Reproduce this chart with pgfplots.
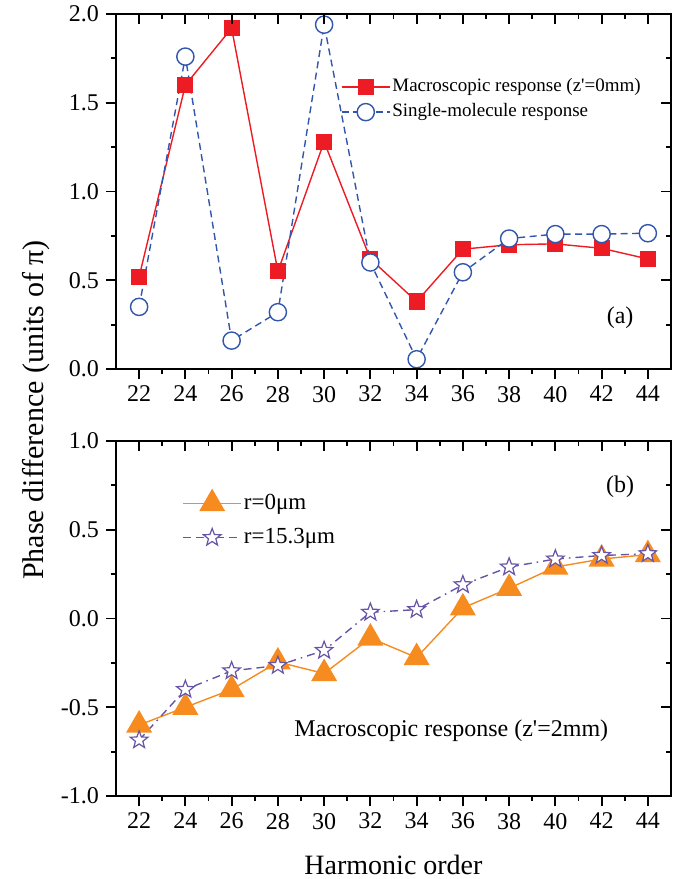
\documentclass[border=0pt]{standalone}
\usepackage{fontspec}
\setmainfont{Liberation Serif}
\usepackage{pgfplots}
\pgfplotsset{compat=1.18}

\definecolor{cred}{RGB}{237,28,36}
\definecolor{cblue}{RGB}{50,86,172}
\definecolor{corange}{RGB}{246,139,31}
\definecolor{cpurple}{RGB}{104,84,166}

% open five-pointed star
\pgfdeclareplotmark{ostar}{%
  \pgfpathmoveto{\pgfpointpolar{90}{\pgfplotmarksize}}%
  \pgfpathlineto{\pgfpointpolar{126}{0.42\pgfplotmarksize}}%
  \pgfpathlineto{\pgfpointpolar{162}{\pgfplotmarksize}}%
  \pgfpathlineto{\pgfpointpolar{198}{0.42\pgfplotmarksize}}%
  \pgfpathlineto{\pgfpointpolar{234}{\pgfplotmarksize}}%
  \pgfpathlineto{\pgfpointpolar{270}{0.42\pgfplotmarksize}}%
  \pgfpathlineto{\pgfpointpolar{306}{\pgfplotmarksize}}%
  \pgfpathlineto{\pgfpointpolar{342}{0.42\pgfplotmarksize}}%
  \pgfpathlineto{\pgfpointpolar{18}{\pgfplotmarksize}}%
  \pgfpathlineto{\pgfpointpolar{54}{0.42\pgfplotmarksize}}%
  \pgfpathclose
  \pgfusepathqfillstroke}

\pgfplotsset{
  panel/.style={
    scale only axis, width=277.5pt, height=177.5pt,
    xmin=21, xmax=45,
    xtick={22,24,...,44},
    minor x tick num=1, minor y tick num=1,
    axis line style={line width=1pt},
    tick style={black, line width=0.9pt},
    major tick length=5pt, minor tick length=2.5pt,
    tick label style={font=\fontsize{12}{14}\selectfont},
    /pgf/number format/assume math mode=true,
  },
  mainpanel/.style={panel, tick align=outside, xtick pos=left, ytick pos=left,
    yticklabel style={/pgf/number format/.cd, fixed, fixed zerofill, precision=1}},
  framepanel/.style={panel, tick align=inside, xtick pos=right, ytick pos=right,
    xticklabels={}, yticklabels={}},
}

\begin{document}
\begin{tikzpicture}
\useasboundingbox (-58pt,-255pt) rectangle (278.5pt,184.5pt);

% (a) top panel
\begin{axis}[mainpanel, at={(0,0)}, anchor=south west,
  ymin=0, ymax=2, ytick={0,0.5,1,1.5,2},
  legend cell align=left,
  legend style={draw=none, fill=none, at={(axis description cs:0.405,0.827)}, anchor=north west,
    inner sep=0pt, row sep=1.2pt, font=\fontsize{9.5}{11}\selectfont,
    nodes={inner sep=1pt, text height=7pt, text depth=2.3pt}},
  legend image code/.code={\draw[mark repeat=2, mark phase=2, #1] plot coordinates {(0cm,0cm) (0.42cm,0cm) (0.84cm,0cm)};},
]
\addplot[cred, line width=0.7pt, mark=square*, mark size=3.7pt,
  mark options={solid, fill=cred, draw=cred}] coordinates {
  (22,0.52) (24,1.60) (26,1.92) (28,0.55) (30,1.28) (32,0.62)
  (34,0.38) (36,0.675) (38,0.70) (40,0.705) (42,0.68) (44,0.62)
};
\addlegendentry{Macroscopic response (z\textquotesingle=0mm)}
\addplot[cblue, line width=0.7pt, dash pattern=on 3.5pt off 2.2pt, mark=*, mark size=4.3pt,
  mark options={solid, fill=white, draw=cblue, line width=0.7pt}] coordinates {
  (22,0.35) (24,1.76) (26,0.16) (28,0.32) (30,1.94) (32,0.60)
  (34,0.055) (36,0.545) (38,0.735) (40,0.76) (42,0.76) (44,0.765)
};
\addlegendentry{Single-molecule response}
\node[font=\fontsize{12}{14}\selectfont] at (axis cs:42.8,0.29) {(a)};
\end{axis}
\begin{axis}[framepanel, at={(0,0)}, anchor=south west, ymin=0, ymax=2, ytick={0,0.5,1,1.5,2}]
\end{axis}

% (b) bottom panel
\begin{axis}[mainpanel, at={(0,-36pt)}, anchor=north west,
  ymin=-1, ymax=1, ytick={-1,-0.5,0,0.5,1},
  xlabel={Harmonic order},
  xlabel style={font=\fontsize{14}{16}\selectfont, at={(axis description cs:0.5,0)}, anchor=center, yshift=-34.5pt},
  legend cell align=left,
  legend style={draw=none, fill=none, at={(axis description cs:0.119,0.863)}, anchor=north west,
    inner sep=0pt, row sep=3.6pt, font=\fontsize{11.5}{13}\selectfont,
    nodes={inner sep=1pt, text height=8.6pt, text depth=2.8pt}},
  legend image code/.code={\draw[mark repeat=2, mark phase=2, #1] plot coordinates {(0cm,0cm) (0.51cm,0cm) (1.02cm,0cm)};},
]
\addplot[corange, line width=0.7pt, mark=triangle*, mark size=6.8pt,
  mark options={solid, fill=corange, draw=corange}] coordinates {
  (22,-0.60) (24,-0.50) (26,-0.40) (28,-0.245) (30,-0.31) (32,-0.11)
  (34,-0.22) (36,0.06) (38,0.17) (40,0.29) (42,0.335) (44,0.36)
};
\addlegendentry{r=0μm}
\addplot[cpurple, line width=0.7pt, dash pattern=on 4pt off 2.5pt on 4pt off 2.5pt on 0.8pt off 2.5pt,
  mark=ostar, mark size=4.6pt,
  mark options={solid, fill=white, draw=cpurple, line width=0.6pt}] coordinates {
  (22,-0.685) (24,-0.40) (26,-0.295) (28,-0.265) (30,-0.18) (32,0.035)
  (34,0.05) (36,0.19) (38,0.29) (40,0.335) (42,0.355) (44,0.365)
};
\addlegendentry{r=15.3μm}
\node[font=\fontsize{12}{14}\selectfont] at (axis cs:42.8,0.74) {(b)};
\node[font=\fontsize{12}{14}\selectfont] at (axis cs:35.5,-0.63) {Macroscopic response (z\textquotesingle=2mm)};
\end{axis}
\begin{axis}[framepanel, at={(0,-36pt)}, anchor=north west, ymin=-1, ymax=1, ytick={-1,-0.5,0,0.5,1}]
\end{axis}

\node[rotate=90, font=\fontsize{15}{17}\selectfont] at (-40pt,-20.5pt) {Phase difference (units of π)};
\end{tikzpicture}
\end{document}
